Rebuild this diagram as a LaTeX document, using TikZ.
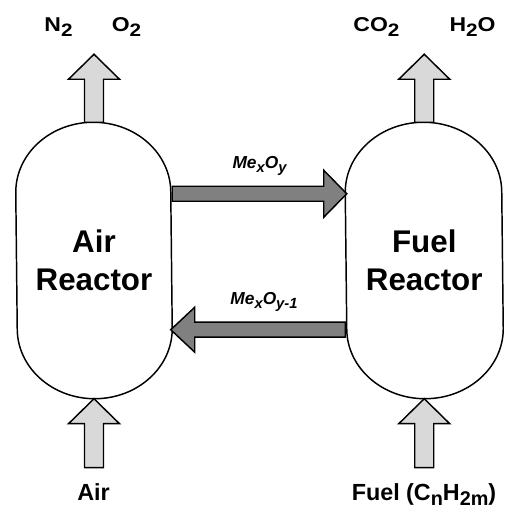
\documentclass[tikz,border=0pt]{standalone}
\usepackage{fontspec}
\setmainfont{Liberation Sans}
\usetikzlibrary{calc}
\definecolor{lightfill}{HTML}{D9D9D9}
\definecolor{darkfill}{HTML}{808080}
\newcommand\dn[1]{\raisebox{-0.2em}{\scalebox{0.85}{#1}}}
\newcommand\dnn[1]{\raisebox{-0.22em}{\scalebox{0.9}{#1}}}
\newcommand\wide[1]{\scalebox{1.15}[1]{#1}}
\newcommand\drawvessel[2]{%
  \draw[vessel] ($(#1.north west)+(0,-70)$)
    arc[start angle=180,end angle=0,x radius=#2,y radius=70]
    -- ($(#1.south east)+(0,70)$)
    arc[start angle=0,end angle=-180,x radius=#2,y radius=70] -- cycle;}
\tikzset{
  pics/blk/.style n args={4}{code={%
    \draw[pic actions] (0,-#2) -- ({#1-#4},-#2) -- ({#1-#4},-#3) -- (#1,0)
      -- ({#1-#4},#3) -- ({#1-#4},#2) -- (0,#2) -- cycle;}},
  vessel/.style={draw=black, fill=white},
  reactor/.style={minimum width=#1, minimum height=206.25pt, inner sep=0pt, draw=none},
  gasarrow/.style={draw=black, fill=lightfill},
  oxarrow/.style={draw=black, fill=darkfill},
  bigtext/.style={font=\fontsize{23.5}{28.5}\selectfont\bfseries, align=center},
  gastext/.style={font=\fontsize{15}{18}\selectfont\bfseries, anchor=base, inner sep=0pt},
  feedtext/.style={font=\fontsize{17.5}{21}\selectfont\bfseries, anchor=base, inner sep=0pt},
  oxtext/.style={font=\fontsize{13}{16}\selectfont\bfseries\itshape, anchor=base, inner sep=0pt},
}
\begin{document}
\begin{tikzpicture}[x=0.75pt,y=0.75pt,line width=1.1pt,line join=miter]
\useasboundingbox (0,0) rectangle (504,510);
\node[reactor=116.25pt] (ar) at (94,249.5) {};
\node[reactor=117.4pt] (fr) at (424.25,249.5) {};
\drawvessel{ar}{77.5}
\drawvessel{fr}{78.25}
% named connector end points
\coordinate (oxs) at ($(ar.north east)+(0,-71.5)$);
\coordinate (reds) at ($(fr.south west)+(0,69)$);
\coordinate (airin) at ($(ar.south)+(0,-69)$);
\coordinate (fuelin) at ($(fr.south)+(0,-69)$);
% gas arrows
\pic[gasarrow,rotate=90] at (ar.north) {blk={68}{9.5}{25.5}{25}};
\pic[gasarrow,rotate=90] at (fr.north) {blk={68}{9.5}{25.5}{25}};
\pic[gasarrow,rotate=90] at (airin) {blk={69}{9.5}{25.5}{25}};
\pic[gasarrow,rotate=90] at (fuelin) {blk={69}{9.5}{25.5}{25}};
% oxygen carrier arrows
\pic[oxarrow] at (oxs) {blk={174.5}{7.5}{23.5}{23}};
\pic[oxarrow,rotate=180] at (reds) {blk={174.5}{7.5}{22.5}{24}};
% texts
\node[bigtext] (art) at (ar) {Air\\Reactor};
\node[bigtext] (frt) at (fr) {Fuel\\Reactor};
\node[gastext] (n2) at (58.5,478.3) {\wide{N\dnn{2}}};
\node[gastext] (o2) at (126.5,478.3) {\wide{O\dnn{2}}};
\node[gastext] (co2) at (376.5,478.3) {\wide{CO\dnn{2}}};
\node[gastext] (h2o) at (472.5,478.3) {\wide{H\dnn{2}O}};
\node[oxtext] (mo) at (259.5,341) {Me\dn{x}O\dn{y}};
\node[oxtext] (mor) at (264,205) {Me\dn{x}O\dn{y-1}};
\node[feedtext] (airt) at (93.5,9) {Air};
\node[feedtext] (fuelt) at (424,9) {Fuel (C\dn{n}H\dn{2m})};
\end{tikzpicture}
\end{document}
